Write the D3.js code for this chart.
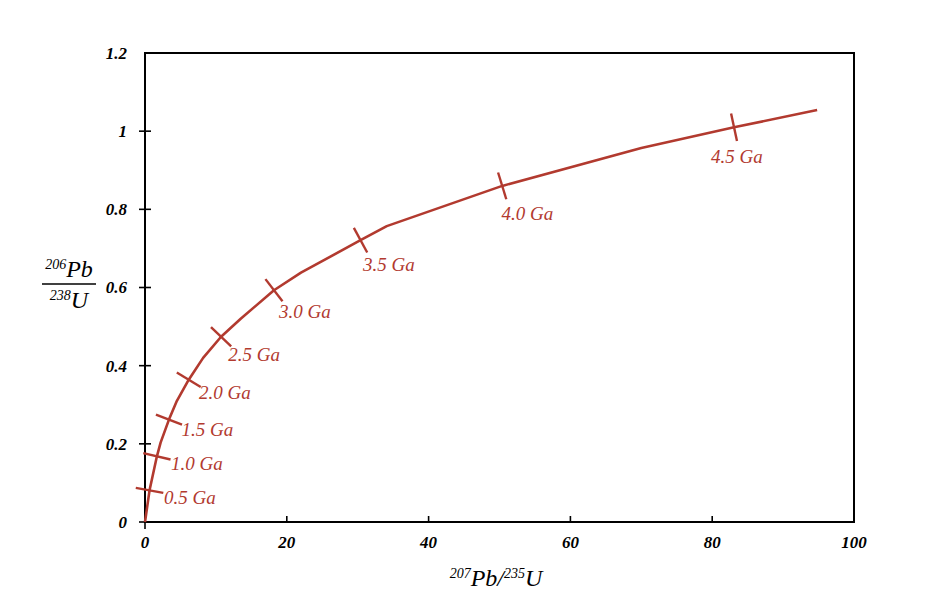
<!DOCTYPE html>
<html><head><meta charset="utf-8">
<script src="https://cdn.jsdelivr.net/npm/d3@7"></script>
<style>
body{margin:0;background:#fff;}
text{font-family:"Liberation Serif","DejaVu Serif",serif;font-style:italic;}
</style></head>
<body>
<svg id="c" width="952" height="596"></svg>
<script>
// Concordia curve (207Pb/235U, 206Pb/238U)
const curveX = [0, 0.64, 1.68, 2.2, 3.38, 4.5, 6.17, 8.2, 10.73, 13.5, 18.19, 22.0, 30.4, 34.1, 50.38, 70.0, 83.08, 94.8];
const curveY = [0, 0.081, 0.168, 0.203, 0.262, 0.31, 0.364, 0.42, 0.474, 0.52, 0.593, 0.638, 0.721, 0.757, 0.86, 0.957, 1.01, 1.054];
// Age markers
const ageLabels = ["0.5 Ga","1.0 Ga","1.5 Ga","2.0 Ga","2.5 Ga","3.0 Ga","3.5 Ga","4.0 Ga","4.5 Ga"];
const ageX = [0.64, 1.68, 3.38, 6.17, 10.73, 18.19, 30.4, 50.38, 83.08];
const ageY = [0.081, 0.168, 0.262, 0.364, 0.474, 0.593, 0.721, 0.86, 1.01];
const xTicks = [0, 20, 40, 60, 80, 100];
const yTicks = [0, 0.2, 0.4, 0.6, 0.8, 1, 1.2];
const yTickLabels = ["0","0.2","0.4","0.6","0.8","1","1.2"];

const svg = d3.select("#c");
const L = 145, R = 854, T = 53, B = 522;
const x = d3.scaleLinear().domain([0,100]).range([L,R]);
const y = d3.scaleLinear().domain([0,1.2]).range([B,T]);
const red = "#b23a2f";

// frame
svg.append("rect").attr("x",L).attr("y",T).attr("width",R-L).attr("height",B-T)
  .attr("fill","none").attr("stroke","#000").attr("stroke-width",2);

// y ticks (crossing)
yTicks.forEach((v,i)=>{
  if (v < 1.2) svg.append("line").attr("x1",L-6).attr("x2",L+6).attr("y1",y(v)).attr("y2",y(v))
     .attr("stroke","#000").attr("stroke-width",1.6);
  svg.append("text").attr("x",L-18).attr("y",y(v)).attr("dy","0.35em")
     .attr("text-anchor","end").attr("font-size",17).attr("font-weight","bold").text(yTickLabels[i]);
});
// x ticks
xTicks.forEach(v=>{
  if (v===0) svg.append("line").attr("x1",x(v)).attr("x2",x(v)).attr("y1",B).attr("y2",B+7).attr("stroke","#000").attr("stroke-width",1.6);
  else if (v<100) svg.append("line").attr("x1",x(v)).attr("x2",x(v)).attr("y1",B).attr("y2",B-6).attr("stroke","#000").attr("stroke-width",1.6);
  svg.append("text").attr("x",x(v)).attr("y",B+20).attr("dy","0.35em")
     .attr("text-anchor","middle").attr("font-size",17).attr("font-weight","bold").text(v);
});

// curve
const pts = curveX.map((v,i)=>[x(v), y(curveY[i])]);
svg.append("path").attr("d", d3.line()(pts)).attr("fill","none")
  .attr("stroke",red).attr("stroke-width",2.6).attr("stroke-linejoin","round");

// age markers: perpendicular ticks + labels
ageX.forEach((v,i)=>{
  const px = x(v), py = y(ageY[i]);
  const k = curveX.indexOf(v);
  const a = pts[Math.max(0,k-1)], b = pts[Math.min(pts.length-1,k+1)];
  let tx = b[0]-a[0], ty = b[1]-a[1];
  const n = Math.hypot(tx,ty); tx/=n; ty/=n;
  let nx = -ty, ny = tx;
  if (ny < 0) { nx=-nx; ny=-ny; }
  const h = 14;
  svg.append("line").attr("x1",px-nx*h).attr("y1",py-ny*h).attr("x2",px+nx*h).attr("y2",py+ny*h)
    .attr("stroke",red).attr("stroke-width",2.4);
  const ex = px+nx*h, ey = py+ny*h;
  const last = i === ageX.length-1;
  svg.append("text").attr("x", last ? ex : ex + 2 - 7*ny).attr("y", ey + 4 + 12*Math.pow(ny,3))
    .attr("dy","0.35em").attr("text-anchor", last ? "middle" : "start")
    .attr("font-size",19).attr("fill",red).text(ageLabels[i]);
});

// y axis title as fraction
const yt = svg.append("g").attr("transform","translate(69,284)");
const num = yt.append("text").attr("y",-7).attr("text-anchor","middle").attr("font-size",24);
num.append("tspan").attr("font-size",14).attr("dy",-8).text("206");
num.append("tspan").attr("dy",8).text("Pb");
yt.append("line").attr("x1",-27).attr("x2",27).attr("y1",0).attr("y2",0).attr("stroke","#000").attr("stroke-width",1.5);
const den = yt.append("text").attr("y",24).attr("text-anchor","middle").attr("font-size",24);
den.append("tspan").attr("font-size",14).attr("dy",-8).text("238");
den.append("tspan").attr("dy",8).text("U");

// x axis title
const xt = svg.append("text").attr("x",496).attr("y",586).attr("text-anchor","middle").attr("font-size",24);
xt.append("tspan").attr("font-size",14).attr("dy",-8).text("207");
xt.append("tspan").attr("dy",8).text("Pb/");
xt.append("tspan").attr("font-size",14).attr("dy",-8).text("235");
xt.append("tspan").attr("dy",8).text("U");
</script>
</body></html>
